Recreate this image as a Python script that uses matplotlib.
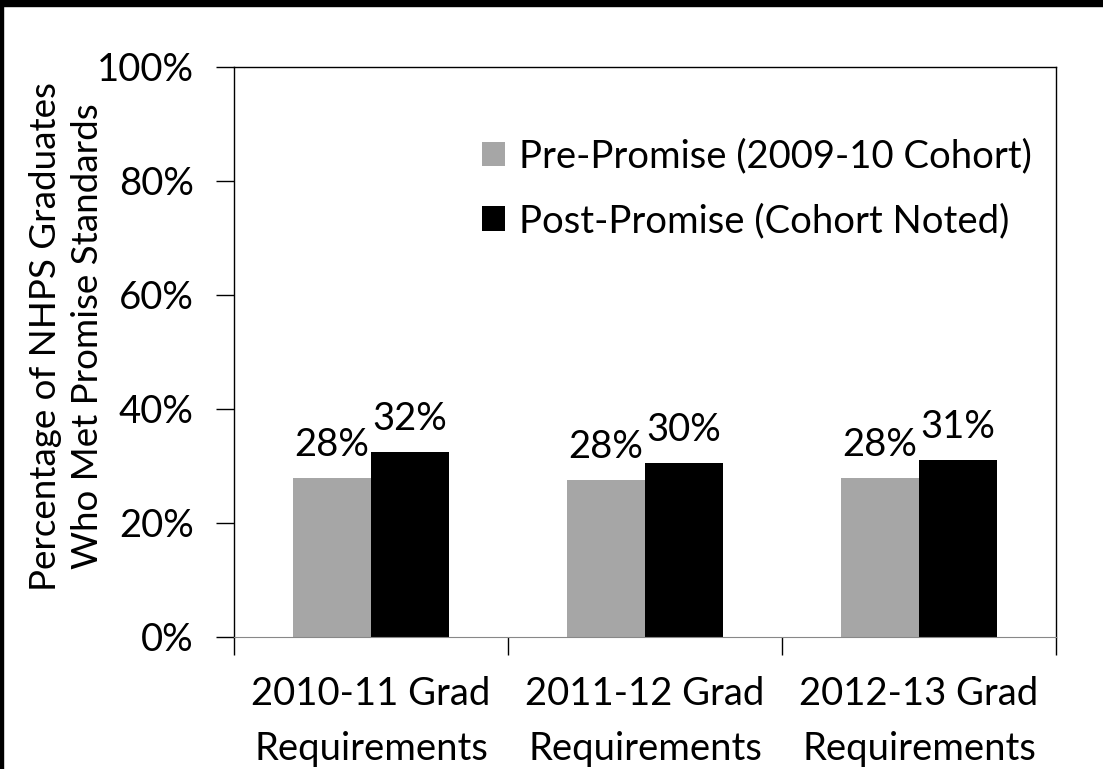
import numpy as np
import matplotlib
matplotlib.use('Agg')
from matplotlib import pyplot as plt
from matplotlib.patches import Rectangle

categories = ['2010-11 Grad\nRequirements', '2011-12 Grad\nRequirements', '2012-13 Grad\nRequirements']
pre_promise = [27.9, 27.6, 27.9]
post_promise = [32.4, 30.5, 31.0]
series_names = ['Pre-Promise (2009-10 Cohort)', 'Post-Promise (Cohort Noted)']
y_ticks = [0, 20, 40, 60, 80, 100]

plt.rcParams['font.family'] = ['Lato', 'DejaVu Sans']
fs = 27.5

fig = plt.figure(figsize=(11.03, 7.69), dpi=100)
ax = fig.add_axes([0.2121, 0.1717, 0.9574 - 0.2121, 0.9129 - 0.1717])

x = np.arange(len(categories))
w = 0.285
b1 = ax.bar(x - w/2, pre_promise, w, color='#a6a6a6', label=series_names[0])
b2 = ax.bar(x + w/2, post_promise, w, color='black', label=series_names[1])

for bars, vals in ((b1, pre_promise), (b2, post_promise)):
    for r, v in zip(bars, vals):
        ax.text(r.get_x() + r.get_width()/2, v + 2.6, f'{round(v)}%',
                ha='center', va='bottom', fontsize=fs)

ax.set_xlim(-0.5, 2.5)
ax.set_ylim(0, 100)
ax.set_yticks(y_ticks)
ax.set_yticklabels([f'{t}%' for t in y_ticks], fontsize=fs)
ax.tick_params(axis='y', length=13, width=1, pad=16)

# category labels between boundary ticks
ax.set_xticks([-0.5, 0.5, 1.5, 2.5])
ax.set_xticklabels([])
ax.set_xticks(x, minor=True)
ax.set_xticklabels(categories, minor=True, fontsize=fs, linespacing=1.65)
ax.tick_params(axis='x', which='major', length=13, width=1)
ax.tick_params(axis='x', which='minor', length=0, pad=28)

for s in ('left', 'top', 'right'):
    ax.spines[s].set_linewidth(1)
    ax.spines[s].set_color('black')
ax.spines['bottom'].set_color('#888888')

ax.set_ylabel('Percentage of NHPS Graduates\nWho Met Promise Standards', fontsize=26.5,
              linespacing=1.35)
ax.yaxis.set_label_coords(-0.158, 0.527)

ax.legend(loc='upper right', bbox_to_anchor=(1.012, 0.935), frameon=False, fontsize=fs,
          handlelength=0.6, handleheight=0.6, handletextpad=0.35, labelspacing=0.75)

# screenshot frame on top and left
fig.add_artist(Rectangle((0, 1 - 6/769), 1, 6/769, transform=fig.transFigure, color='black'))
fig.add_artist(Rectangle((0, 0), 3/1103, 1, transform=fig.transFigure, color='black'))

fig.savefig('out.png', dpi=100)
